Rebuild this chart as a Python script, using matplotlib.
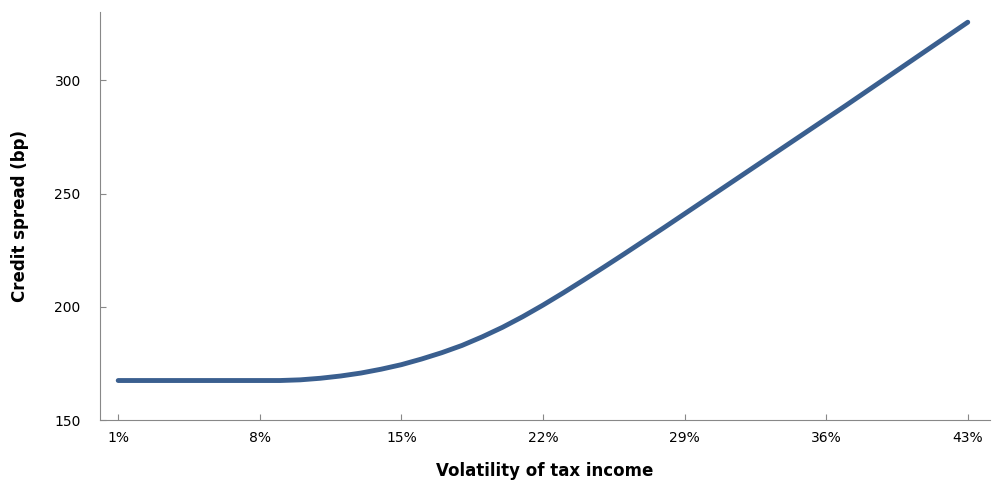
import matplotlib
matplotlib.use("Agg")
import matplotlib.pyplot as plt

vol = list(range(1, 44))
spread_pts = {1:167.5,2:167.5,3:167.5,4:167.5,5:167.5,6:167.5,7:167.5,8:167.5,9:167.5,10:167.8,
11:168.5,12:169.5,13:170.8,14:172.5,15:174.5,16:177,17:179.8,18:183,19:186.8,20:191,21:195.7,
22:200.8,23:206.2,24:211.8,25:217.5,26:223.3,27:229.2,28:235.1,29:241.1,30:247.1,31:253.1,
32:259.1,33:265.1,34:271.1,35:277.1,36:283.1,37:289.1,38:295.2,39:301.3,40:307.4,41:313.5,
42:319.6,43:325.7}
spread = [spread_pts[v] for v in vol]
tick_vals = [1, 8, 15, 22, 29, 36, 43]
tick_labels = ["1%", "8%", "15%", "22%", "29%", "36%", "43%"]

fig, ax = plt.subplots(figsize=(9.92, 4.99), dpi=100)
fig.subplots_adjust(left=0.101, right=0.998, top=0.975, bottom=0.158)
ax.plot(vol, spread, color="#3A5F8F", lw=3.5, solid_capstyle="round")
ax.set_xlim(0.11, 44.1)
ax.set_ylim(150, 330)
ax.set_yticks([150, 200, 250, 300])
ax.set_xticks(tick_vals)
ax.set_xticklabels(tick_labels)
for s in ["top", "right"]:
    ax.spines[s].set_visible(False)
for s in ["left", "bottom"]:
    ax.spines[s].set_color("#888888")
ax.tick_params(colors="#888888", labelcolor="black", labelsize=10, direction="in", length=4)
ax.tick_params(axis="x", pad=8)
ax.tick_params(axis="y", pad=14)
ax.set_xlabel("Volatility of tax income", fontsize=12, fontweight="bold", labelpad=12)
ax.set_ylabel("Credit spread (bp)", fontsize=12, fontweight="bold", labelpad=18)
fig.savefig("out.png")
